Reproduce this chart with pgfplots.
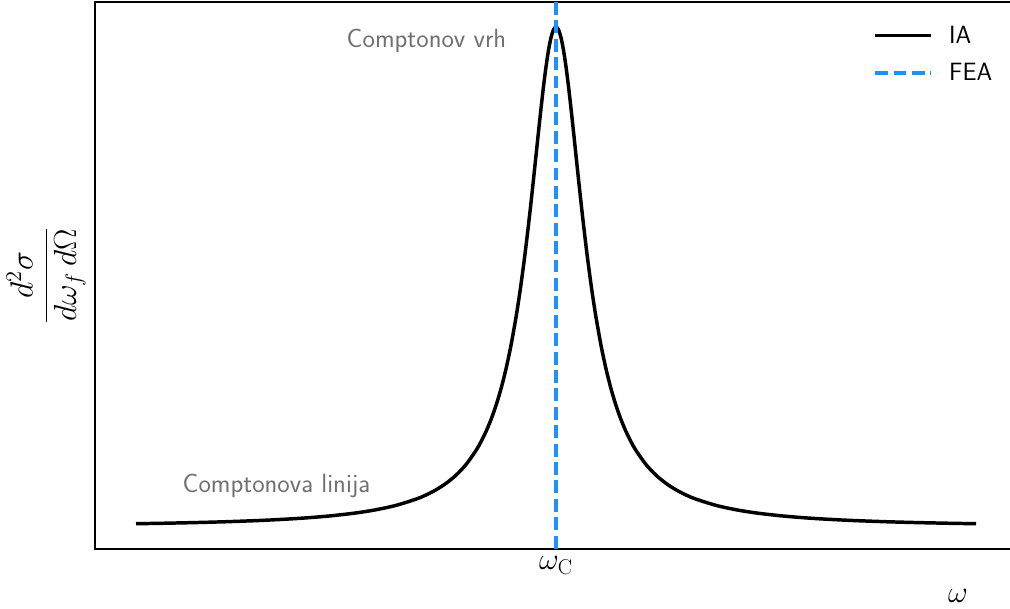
\RequirePackage{fix-cm}
\documentclass[border=0pt]{standalone}
\usepackage{fontspec}
\usepackage{amsmath}
\usepackage{pgfplots}
\pgfplotsset{compat=1.18}

\definecolor{feablue}{RGB}{30,144,255}
\definecolor{annogray}{RGB}{112,112,112}

% Compton profile (IA), omega_C at x=0
\pgfplotstableread{
x y
-4.20 0.00651
-3.90 0.00754
-3.60 0.00884
-3.30 0.01050
-3.00 0.01268
-2.75 0.01506
-2.50 0.01816
-2.25 0.02232
-2.00 0.02809
-1.80 0.03445
-1.60 0.04321
-1.40 0.05570
-1.30 0.06402
-1.20 0.07431
-1.10 0.08721
-1.00 0.10362
-0.90 0.12489
-0.80 0.15299
-0.75 0.17048
-0.70 0.19089
-0.65 0.21483
-0.60 0.24306
-0.55 0.27649
-0.50 0.31619
-0.45 0.36341
-0.40 0.41945
-0.375 0.45117
-0.35 0.48551
-0.325 0.52255
-0.30 0.56226
-0.275 0.60452
-0.25 0.64907
-0.225 0.69544
-0.20 0.74293
-0.175 0.79056
-0.15 0.83708
-0.125 0.88093
-0.10 0.92038
-0.075 0.95360
-0.05 0.97883
-0.025 0.99462
0.00 1.00000
0.025 0.99462
0.05 0.97883
0.075 0.95360
0.10 0.92038
0.125 0.88093
0.15 0.83708
0.175 0.79056
0.20 0.74293
0.225 0.69544
0.25 0.64907
0.275 0.60452
0.30 0.56226
0.325 0.52255
0.35 0.48551
0.375 0.45117
0.40 0.41945
0.45 0.36341
0.50 0.31619
0.55 0.27649
0.60 0.24306
0.65 0.21483
0.70 0.19089
0.75 0.17048
0.80 0.15299
0.90 0.12489
1.00 0.10362
1.10 0.08721
1.20 0.07431
1.30 0.06402
1.40 0.05570
1.60 0.04321
1.80 0.03445
2.00 0.02809
2.25 0.02232
2.50 0.01816
2.75 0.01506
3.00 0.01268
3.30 0.01050
3.60 0.00884
3.90 0.00754
4.20 0.00651
}\iadata

\begin{document}
\begin{tikzpicture}
\begin{axis}[
    scale only axis,
    width=663.8pt, height=393.8pt,
    xmin=-4.61, xmax=4.61,
    ymin=-0.044, ymax=1.05,
    xtick={0}, xticklabels={$\omega_{\mathrm{C}}$},
    ytick=\empty,
    major tick length=0pt,
    tick label style={font=\fontsize{22}{26}\selectfont, yshift=-2pt},
    axis line style={line width=1pt},
    xlabel={$\omega$},
    xlabel style={at={(rel axis cs:0.936,0)}, anchor=center, yshift=-34pt, font=\fontsize{22}{26}\selectfont},
    ylabel={$\dfrac{d^2\sigma}{d\omega_f\, d\Omega}$},
    ylabel style={at={(rel axis cs:-0.0531,0.5)}, anchor=center, font=\fontsize{23}{27}\selectfont},
    legend style={draw=none, fill=none, at={(rel axis cs:0.8395,0.967)}, anchor=north west,
        font=\sffamily\fontsize{18}{21}\selectfont, row sep=9pt},
    legend cell align=left,
    legend image code/.code={\draw[#1] (0pt,0pt) -- (40pt,0pt); \path (50pt,0pt);},
]
\addplot[black, line width=2.5pt, smooth] table {\iadata};
\addlegendentry{IA}
\addplot[feablue, line width=2.5pt, dash pattern=on 9.25pt off 4pt] coordinates {(0,1.05) (0,-0.044)};
\addlegendentry{FEA}
\node[annogray, anchor=base, font=\sffamily\fontsize{19}{22}\selectfont] at (axis cs:-1.295,0.958) {Comptonov vrh};
\node[annogray, anchor=base, font=\sffamily\fontsize{19}{22}\selectfont] at (axis cs:-2.795,0.068) {Comptonova linija};
\coordinate (bl) at (rel axis cs:0,0);
\coordinate (tr) at (rel axis cs:1,1);
\end{axis}
\pgfresetboundingbox
\path[use as bounding box] ([xshift=-68.4pt,yshift=-43.2pt]bl) rectangle ([xshift=-5.04pt,yshift=1.44pt]tr);
\end{tikzpicture}
\end{document}
